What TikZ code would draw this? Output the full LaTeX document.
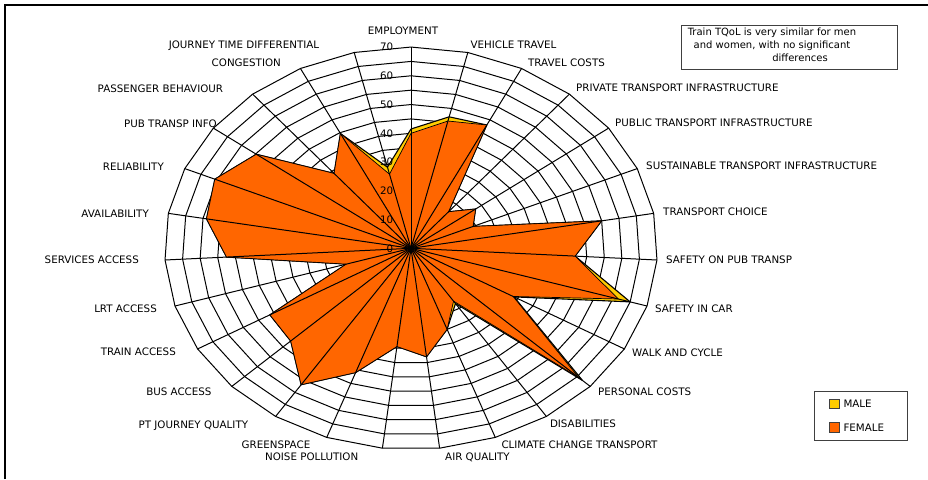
\documentclass[tikz,border=0pt]{standalone}
\usepackage{fontspec}
\setmainfont{DejaVu Sans}
\definecolor{malefill}{HTML}{FFCC00}
\definecolor{femalefill}{HTML}{FF6600}
\definecolor{boxline}{HTML}{404040}
\tikzset{
  gridline/.style={black, line width=1pt},
  catlbl/.style={font=\fontsize{10.3}{12}\selectfont, inner sep=0pt, text height=7.5pt, text depth=0pt},
  numlbl/.style={font=\fontsize{10.3}{12}\selectfont, inner sep=0pt},
  malepoly/.style={fill=malefill, draw=black, line width=1.1pt, line join=round},
  femalepoly/.style={fill=femalefill, draw=black, line width=0.7pt, line join=round},
  keybox/.style={draw=boxline, line width=0.8pt, minimum size=9.5pt, inner sep=0pt},
}
\begin{document}
\begin{tikzpicture}[x=1pt,y=-1pt]
  \useasboundingbox (0,0) rectangle (928,479);
  \fill[white] (0,0) rectangle (928,479);
  \draw[line width=1.6pt] (5,479) -- (5,5) -- (928,5);

  % radar grid and data
  \begin{scope}[shift={(411,248.3)}, x=3.52pt, y=2.875pt]
    \foreach \r in {5,10,...,70}
      \draw[gridline] (90:\r) \foreach \k in {1,...,26} { -- ({90-\k*360/27}:\r) } -- cycle;

    \foreach \v [count=\i from 0] in {41.5,47,48,16.6,22.9,19.2,55,46.7,65,33.8,67,23,30,38,34.4,46,56.8,47,46.3,19.2,52.5,59,60.7,54.8,34,44.7,29}
      \coordinate (m\i) at ({90-\i*360/27}:\v);
    \foreach \v [count=\i from 0] in {40,45.5,48,16.6,22.9,19.2,55,46.7,61.5,33.5,65.5,22,30,38,34.4,46,56.8,47,46.3,19.2,52.5,59,60.7,54.8,34,44.7,26.5}
      \coordinate (f\i) at ({90-\i*360/27}:\v);

    \draw[malepoly] (m0) \foreach \i in {1,...,26} { -- (m\i) } -- cycle;
    \draw[femalepoly] (f0) \foreach \i in {1,...,26} { -- (f\i) } -- cycle;

    \coordinate (ctr) at (0,0);
    \foreach \k in {0,...,26}
      \draw[gridline] (ctr) -- ({90-\k*360/27}:70);

    \foreach \r in {0,10,...,70}
      \node[numlbl, anchor=east] (tick\r) at (-5,\r) {\r};
  \end{scope}

  % category labels
  \foreach \x/\y/\a/\t [count=\i] in {
      403/31/center/EMPLOYMENT,
      513.5/44.5/center/VEHICLE TRAVEL,
      566.5/62.5/center/TRAVEL COSTS,
      576/87.5/west/PRIVATE TRANSPORT INFRASTRUCTURE,
      615/122.5/west/PUBLIC TRANSPORT INFRASTRUCTURE,
      646/166/west/SUSTAINABLE TRANSPORT INFRASTRUCTURE,
      663/212/west/TRANSPORT CHOICE,
      666/260/west/SAFETY ON PUB TRANSP,
      655/309/west/SAFETY IN CAR,
      632/353/west/WALK AND CYCLE,
      598/392/west/PERSONAL COSTS,
      583/423.3/center/DISABILITIES,
      579.5/445/center/CLIMATE CHANGE TRANSPORT,
      477.5/456.7/center/AIR QUALITY,
      311.7/456.7/center/NOISE POLLUTION,
      276/445/center/GREENSPACE,
      248.3/424.3/east/PT JOURNEY QUALITY,
      211.7/391.7/east/BUS ACCESS,
      176/352/east/TRAIN ACCESS,
      157/308.3/east/LRT ACCESS,
      139/260/east/SERVICES ACCESS,
      149/213.3/east/AVAILABILITY,
      164/166.7/east/RELIABILITY,
      217/123.3/east/PUB TRANSP INFO,
      223.3/88.3/east/PASSENGER BEHAVIOUR,
      246.3/62.7/center/CONGESTION,
      244/45/center/JOURNEY TIME DIFFERENTIAL}
    \node[catlbl, anchor=\a] (cat\i) at (\x,\y) {\t};

  % note
  \node[draw=boxline, line width=1pt, minimum width=216.7pt, minimum height=44.3pt] (note) at (789.4,47.2) {};
  \node[font=\fontsize{10}{12.8}\selectfont, align=center, inner sep=0pt] (notetxt) at (772,45)
    {Train TQoL is very similar for men\\and women, with no significant\\\hspace*{56pt}differences};

  % legend
  \node[draw=boxline, line width=1pt, minimum width=93pt, minimum height=48.3pt] (legend) at (860.8,415.9) {};
  \node[keybox, fill=malefill] (keymale) at (834.2,403.8) {};
  \node[keybox, fill=femalefill] (keyfemale) at (834.2,427.5) {};
  \node[catlbl, anchor=west] (txtmale) at (843.3,404) {MALE};
  \node[catlbl, anchor=west] (txtfemale) at (843.3,427.3) {FEMALE};
\end{tikzpicture}
\end{document}
